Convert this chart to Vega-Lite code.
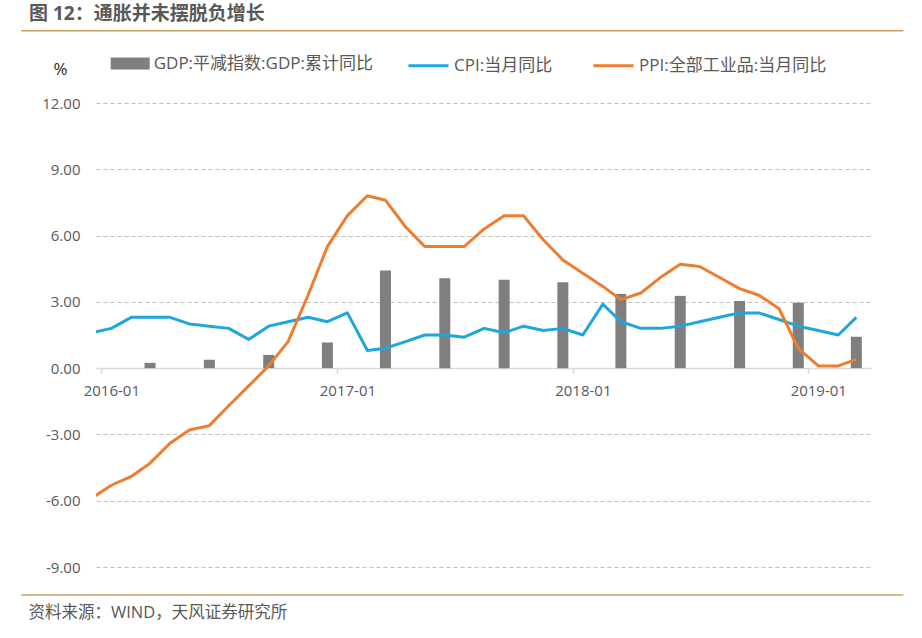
{
  "$schema": "https://vega.github.io/schema/vega-lite/v6.json",
  "width": 775,
  "height": 464,
  "autosize": {"type": "none"},
  "padding": {"left": 96, "top": 103, "right": 51, "bottom": 71},
  "background": "white",
  "config": {"font": "Open Sans, Noto Sans CJK SC", "view": {"stroke": null}},
  "title": {"text": "图 12：通胀并未摆脱负增长", "anchor": "start", "frame": "group", "dx": -67, "dy": 4, "offset": 10, "fontSize": 19, "fontWeight": "bold", "color": "#595959", "font": "Open Sans, Noto Sans CJK SC"},
  "datasets": {
    "gdp": [
      {"date": "2016-03-01", "series": "GDP:平减指数:GDP:累计同比", "value": 0.24},
      {"date": "2016-06-01", "series": "GDP:平减指数:GDP:累计同比", "value": 0.38},
      {"date": "2016-09-01", "series": "GDP:平减指数:GDP:累计同比", "value": 0.6},
      {"date": "2016-12-01", "series": "GDP:平减指数:GDP:累计同比", "value": 1.16},
      {"date": "2017-03-01", "series": "GDP:平减指数:GDP:累计同比", "value": 4.42},
      {"date": "2017-06-01", "series": "GDP:平减指数:GDP:累计同比", "value": 4.07},
      {"date": "2017-09-01", "series": "GDP:平减指数:GDP:累计同比", "value": 4.0},
      {"date": "2017-12-01", "series": "GDP:平减指数:GDP:累计同比", "value": 3.89},
      {"date": "2018-03-01", "series": "GDP:平减指数:GDP:累计同比", "value": 3.36},
      {"date": "2018-06-01", "series": "GDP:平减指数:GDP:累计同比", "value": 3.27},
      {"date": "2018-09-01", "series": "GDP:平减指数:GDP:累计同比", "value": 3.04},
      {"date": "2018-12-01", "series": "GDP:平减指数:GDP:累计同比", "value": 2.96},
      {"date": "2019-03-01", "series": "GDP:平减指数:GDP:累计同比", "value": 1.42}
    ],
    "prices": [
      {"date": "2015-12-01", "series": "CPI:当月同比", "value": 1.6},
      {"date": "2016-01-01", "series": "CPI:当月同比", "value": 1.8},
      {"date": "2016-02-01", "series": "CPI:当月同比", "value": 2.3},
      {"date": "2016-03-01", "series": "CPI:当月同比", "value": 2.3},
      {"date": "2016-04-01", "series": "CPI:当月同比", "value": 2.3},
      {"date": "2016-05-01", "series": "CPI:当月同比", "value": 2.0},
      {"date": "2016-06-01", "series": "CPI:当月同比", "value": 1.9},
      {"date": "2016-07-01", "series": "CPI:当月同比", "value": 1.8},
      {"date": "2016-08-01", "series": "CPI:当月同比", "value": 1.3},
      {"date": "2016-09-01", "series": "CPI:当月同比", "value": 1.9},
      {"date": "2016-10-01", "series": "CPI:当月同比", "value": 2.1},
      {"date": "2016-11-01", "series": "CPI:当月同比", "value": 2.3},
      {"date": "2016-12-01", "series": "CPI:当月同比", "value": 2.1},
      {"date": "2017-01-01", "series": "CPI:当月同比", "value": 2.5},
      {"date": "2017-02-01", "series": "CPI:当月同比", "value": 0.8},
      {"date": "2017-03-01", "series": "CPI:当月同比", "value": 0.9},
      {"date": "2017-04-01", "series": "CPI:当月同比", "value": 1.2},
      {"date": "2017-05-01", "series": "CPI:当月同比", "value": 1.5},
      {"date": "2017-06-01", "series": "CPI:当月同比", "value": 1.5},
      {"date": "2017-07-01", "series": "CPI:当月同比", "value": 1.4},
      {"date": "2017-08-01", "series": "CPI:当月同比", "value": 1.8},
      {"date": "2017-09-01", "series": "CPI:当月同比", "value": 1.6},
      {"date": "2017-10-01", "series": "CPI:当月同比", "value": 1.9},
      {"date": "2017-11-01", "series": "CPI:当月同比", "value": 1.7},
      {"date": "2017-12-01", "series": "CPI:当月同比", "value": 1.8},
      {"date": "2018-01-01", "series": "CPI:当月同比", "value": 1.5},
      {"date": "2018-02-01", "series": "CPI:当月同比", "value": 2.9},
      {"date": "2018-03-01", "series": "CPI:当月同比", "value": 2.1},
      {"date": "2018-04-01", "series": "CPI:当月同比", "value": 1.8},
      {"date": "2018-05-01", "series": "CPI:当月同比", "value": 1.8},
      {"date": "2018-06-01", "series": "CPI:当月同比", "value": 1.9},
      {"date": "2018-07-01", "series": "CPI:当月同比", "value": 2.1},
      {"date": "2018-08-01", "series": "CPI:当月同比", "value": 2.3},
      {"date": "2018-09-01", "series": "CPI:当月同比", "value": 2.5},
      {"date": "2018-10-01", "series": "CPI:当月同比", "value": 2.5},
      {"date": "2018-11-01", "series": "CPI:当月同比", "value": 2.2},
      {"date": "2018-12-01", "series": "CPI:当月同比", "value": 1.9},
      {"date": "2019-01-01", "series": "CPI:当月同比", "value": 1.7},
      {"date": "2019-02-01", "series": "CPI:当月同比", "value": 1.5},
      {"date": "2019-03-01", "series": "CPI:当月同比", "value": 2.3},
      {"date": "2015-12-01", "series": "PPI:全部工业品:当月同比", "value": -5.9},
      {"date": "2016-01-01", "series": "PPI:全部工业品:当月同比", "value": -5.3},
      {"date": "2016-02-01", "series": "PPI:全部工业品:当月同比", "value": -4.9},
      {"date": "2016-03-01", "series": "PPI:全部工业品:当月同比", "value": -4.3},
      {"date": "2016-04-01", "series": "PPI:全部工业品:当月同比", "value": -3.4},
      {"date": "2016-05-01", "series": "PPI:全部工业品:当月同比", "value": -2.8},
      {"date": "2016-06-01", "series": "PPI:全部工业品:当月同比", "value": -2.6},
      {"date": "2016-07-01", "series": "PPI:全部工业品:当月同比", "value": -1.7},
      {"date": "2016-08-01", "series": "PPI:全部工业品:当月同比", "value": -0.8},
      {"date": "2016-09-01", "series": "PPI:全部工业品:当月同比", "value": 0.1},
      {"date": "2016-10-01", "series": "PPI:全部工业品:当月同比", "value": 1.2},
      {"date": "2016-11-01", "series": "PPI:全部工业品:当月同比", "value": 3.3},
      {"date": "2016-12-01", "series": "PPI:全部工业品:当月同比", "value": 5.5},
      {"date": "2017-01-01", "series": "PPI:全部工业品:当月同比", "value": 6.9},
      {"date": "2017-02-01", "series": "PPI:全部工业品:当月同比", "value": 7.8},
      {"date": "2017-03-01", "series": "PPI:全部工业品:当月同比", "value": 7.6},
      {"date": "2017-04-01", "series": "PPI:全部工业品:当月同比", "value": 6.4},
      {"date": "2017-05-01", "series": "PPI:全部工业品:当月同比", "value": 5.5},
      {"date": "2017-06-01", "series": "PPI:全部工业品:当月同比", "value": 5.5},
      {"date": "2017-07-01", "series": "PPI:全部工业品:当月同比", "value": 5.5},
      {"date": "2017-08-01", "series": "PPI:全部工业品:当月同比", "value": 6.3},
      {"date": "2017-09-01", "series": "PPI:全部工业品:当月同比", "value": 6.9},
      {"date": "2017-10-01", "series": "PPI:全部工业品:当月同比", "value": 6.9},
      {"date": "2017-11-01", "series": "PPI:全部工业品:当月同比", "value": 5.8},
      {"date": "2017-12-01", "series": "PPI:全部工业品:当月同比", "value": 4.9},
      {"date": "2018-01-01", "series": "PPI:全部工业品:当月同比", "value": 4.3},
      {"date": "2018-02-01", "series": "PPI:全部工业品:当月同比", "value": 3.7},
      {"date": "2018-03-01", "series": "PPI:全部工业品:当月同比", "value": 3.1},
      {"date": "2018-04-01", "series": "PPI:全部工业品:当月同比", "value": 3.4},
      {"date": "2018-05-01", "series": "PPI:全部工业品:当月同比", "value": 4.1},
      {"date": "2018-06-01", "series": "PPI:全部工业品:当月同比", "value": 4.7},
      {"date": "2018-07-01", "series": "PPI:全部工业品:当月同比", "value": 4.6},
      {"date": "2018-08-01", "series": "PPI:全部工业品:当月同比", "value": 4.1},
      {"date": "2018-09-01", "series": "PPI:全部工业品:当月同比", "value": 3.6},
      {"date": "2018-10-01", "series": "PPI:全部工业品:当月同比", "value": 3.3},
      {"date": "2018-11-01", "series": "PPI:全部工业品:当月同比", "value": 2.7},
      {"date": "2018-12-01", "series": "PPI:全部工业品:当月同比", "value": 0.9},
      {"date": "2019-01-01", "series": "PPI:全部工业品:当月同比", "value": 0.1},
      {"date": "2019-02-01", "series": "PPI:全部工业品:当月同比", "value": 0.1},
      {"date": "2019-03-01", "series": "PPI:全部工业品:当月同比", "value": 0.4}
    ]
  },
  "layer": [
    {
      "data": {"name": "gdp"},
      "mark": {"type": "bar", "size": 11},
      "encoding": {
        "x": {
          "field": "date", "type": "temporal",
          "scale": {"domain": [{"year": 2015, "month": 12, "date": 16}, {"year": 2019, "month": 3, "date": 16}]},
          "axis": {
            "values": [{"year": 2016, "month": 1, "date": 1}, {"year": 2017, "month": 1, "date": 1}, {"year": 2018, "month": 1, "date": 1}, {"year": 2019, "month": 1, "date": 1}],
            "format": "%Y-%m", "offset": -199, "tickOffset": -10, "labelOffset": 10,
            "domainColor": "#d9d9d9", "domainWidth": 1.5, "tickColor": "#d9d9d9", "tickWidth": 1.5, "tickSize": 5,
            "labelFontSize": 15, "labelColor": "#595959", "labelPadding": 10, "labelFlush": false, "labelOverlap": false,
            "grid": false,
            "title": "资料来源：WIND，天风证券研究所", "titleX": -68, "titleY": 244, "titleAlign": "left", "titleAnchor": null,
            "titleBaseline": "middle", "titleFontSize": 16.5, "titleFontWeight": "normal", "titleColor": "#595959"
          }
        },
        "y": {
          "field": "value", "type": "quantitative",
          "scale": {"domain": [-9, 12], "nice": false, "zero": false},
          "axis": {
            "values": [-9, -6, -3, 0, 3, 6, 9, 12],
            "labelExpr": "replace(format(datum.value, '.2f'), '−', '-')",
            "domain": false, "ticks": false, "labelPadding": 16, "labelFontSize": 15, "labelColor": "#595959",
            "grid": true, "gridColor": "#bfbfbf", "gridDash": [4, 3], "gridWidth": 1,
            "title": "%", "titleAngle": 0, "titleX": -36, "titleY": -34, "titleAlign": "center", "titleBaseline": "middle",
            "titleFontSize": 17, "titleFontWeight": "normal", "titleColor": "#262626"
          }
        },
        "fill": {
          "field": "series", "type": "nominal",
          "scale": {"range": ["#7f7f7f"]},
          "legend": {
            "orient": "none", "legendX": 14.7, "legendY": -59, "direction": "horizontal", "title": null,
            "symbolType": "M-1,-0.31H1V0.31H-1Z", "symbolSize": 1521, "symbolStrokeWidth": 0,
            "labelFontSize": 17, "labelColor": "#595959", "labelOffset": 4, "labelLimit": 400, "padding": 0
          }
        }
      }
    },
    {
      "data": {"name": "prices"},
      "mark": {"type": "line", "strokeWidth": 3, "clip": true, "strokeJoin": "round"},
      "encoding": {
        "x": {"field": "date", "type": "temporal", "title": "资料来源：WIND，天风证券研究所"},
        "y": {"field": "value", "type": "quantitative", "title": "%"},
        "stroke": {
          "field": "series", "type": "nominal",
          "scale": {"domain": ["CPI:当月同比", "PPI:全部工业品:当月同比"], "range": ["#1fa6dc", "#ed7d31"]},
          "legend": {
            "orient": "none", "legendX": 311, "legendY": -59, "direction": "horizontal", "title": null,
            "symbolType": "stroke", "symbolSize": 1600, "symbolStrokeWidth": 3, "columnPadding": 34,
            "labelFontSize": 17, "labelColor": "#595959", "labelOffset": 4, "labelLimit": 400, "padding": 0
          }
        }
      }
    },
    {
      "data": {"values": [{}]},
      "mark": {"type": "rule", "color": "#c9a46a", "strokeWidth": 1.5},
      "encoding": {
        "x": {"datum": {"year": 2015, "month": 8, "date": 14}, "type": "temporal", "title": "资料来源：WIND，天风证券研究所"},
        "x2": {"datum": {"year": 2019, "month": 5, "date": 13}},
        "y": {"datum": 15.27, "type": "quantitative", "title": "%"}
      }
    },
    {
      "data": {"values": [{}]},
      "mark": {"type": "rule", "color": "#c9a46a", "strokeWidth": 1.5},
      "encoding": {
        "x": {"datum": {"year": 2015, "month": 8, "date": 14}, "type": "temporal", "title": "资料来源：WIND，天风证券研究所"},
        "x2": {"datum": {"year": 2019, "month": 5, "date": 13}},
        "y": {"datum": -10.27, "type": "quantitative", "title": "%"}
      }
    }
  ]
}
